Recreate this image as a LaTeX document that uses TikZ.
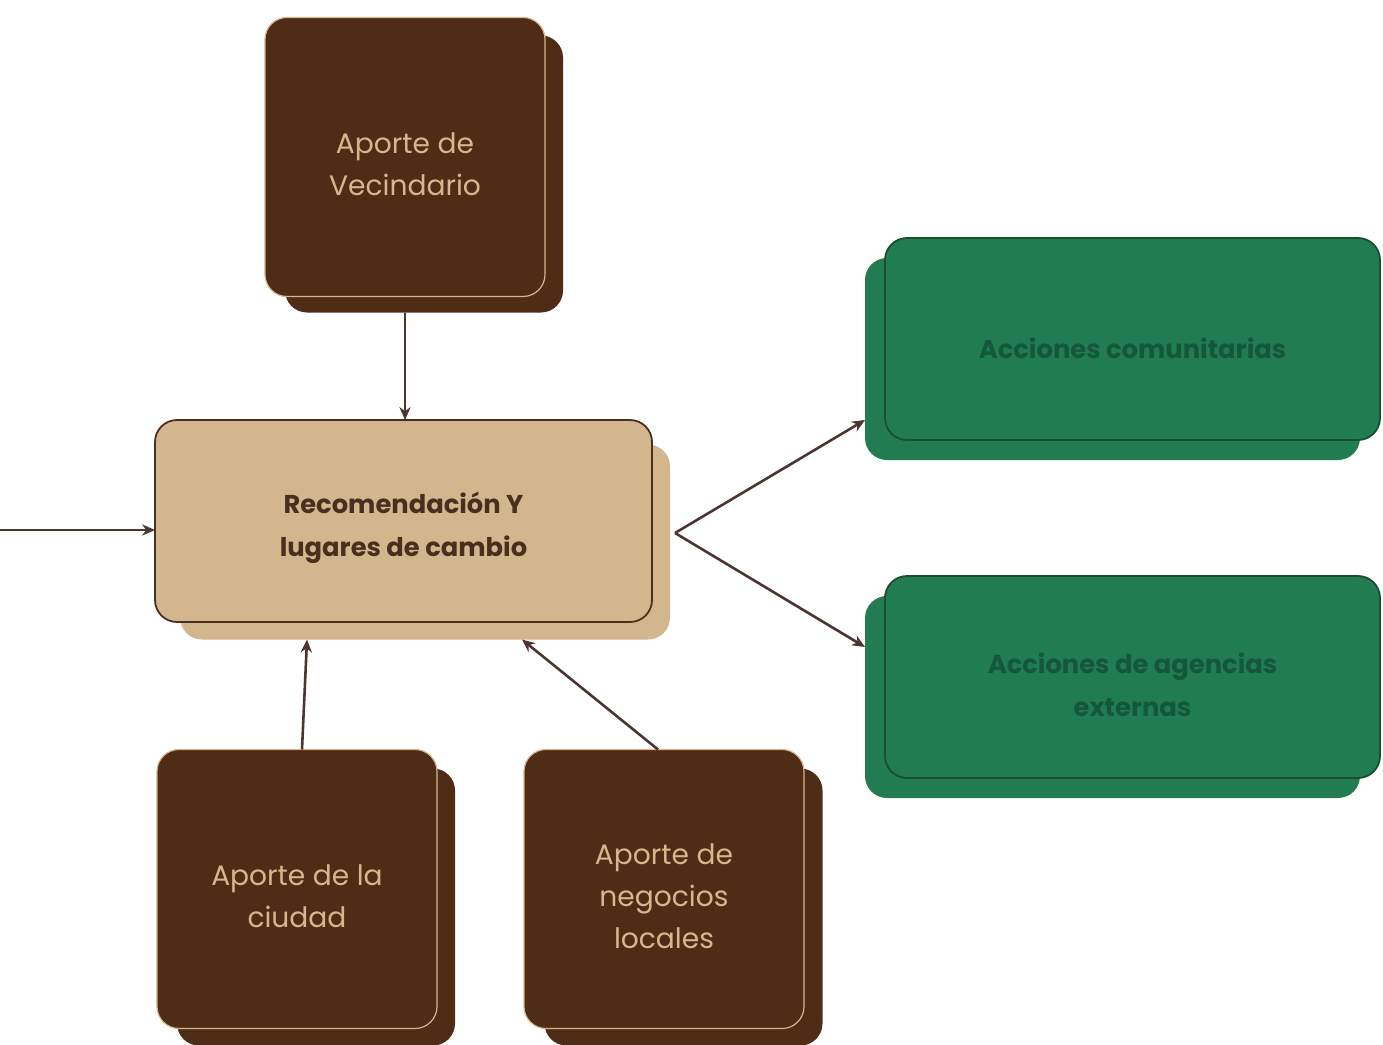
\documentclass[tikz,border=0pt]{standalone}
\usepackage{fontspec}
\setmainfont{Poppins}
\usetikzlibrary{calc,arrows.meta}
\definecolor{brownbox}{HTML}{4F2C16}
\definecolor{tantext}{HTML}{D9B58E}
\definecolor{tanbox}{HTML}{D3B68E}
\definecolor{darkbrown}{HTML}{4A2E1E}
\definecolor{greenbox}{HTML}{217C52}
\definecolor{greentext}{HTML}{14573A}
\definecolor{greenline}{HTML}{1A4D32}
\definecolor{arrowc}{HTML}{4A3530}
\begin{document}
\begin{tikzpicture}[x=0.03cm,y=-0.03cm,
  box/.style={rounded corners=0.66cm, inner sep=0pt, outer sep=0pt},
  brownback/.style={box, fill=brownbox},
  brownfront/.style={box, fill=brownbox, draw=tantext, line width=1pt},
  tanback/.style={box, fill=tanbox},
  tanfront/.style={box, fill=tanbox, draw=darkbrown, line width=1.5pt},
  greenback/.style={box, fill=greenbox},
  greenfront/.style={box, fill=greenbox, draw=greenline, line width=1.5pt},
  sqback/.style={minimum width=8.34cm, minimum height=8.31cm},
  sqfront/.style={minimum width=8.4cm, minimum height=8.37cm},
  wideback/.style={minimum width=14.85cm, minimum height=6.06cm},
  widefront/.style={minimum width=14.85cm, minimum height=6.06cm},
  btext/.style={align=center, text=tantext, font=\fontsize{24}{36}\selectfont},
  ctext/.style={align=center, text=darkbrown, font=\fontsize{22}{37}\selectfont\bfseries},
  gtext/.style={align=center, text=greentext, font=\fontsize{22}{37}\selectfont\bfseries},
  arr/.style={draw=arrowc, line width=2.2pt, -{Stealth[length=11pt,width=9.5pt]}}
]
\useasboundingbox[fill=white] (0,0) rectangle (1383,1045);

% top box
\node[brownback, sqback] (topb) at (424,174) {};
\node[brownfront, sqfront] (topf) at (405,157) {};
\node[btext] (topt) at ($(topf.center)+(0,7)$) {Aporte de\\Vecindario};

% center box
\node[tanback, minimum width=14.7cm, minimum height=5.85cm] (cb) at (425,542) {};
\node[tanfront, minimum width=14.91cm, minimum height=6.06cm] (cf) at (403.5,521) {};
\node[ctext] (ct) at ($(cf.center)+(0,7)$) {Recomendación Y\\lugares de cambio};

% green boxes
\node[greenback, wideback] (g1b) at (1112.5,359) {};
\node[greenfront, widefront] (g1f) at (1132.5,339) {};
\node[gtext] (g1t) at ($(g1f.center)+(0,9)$) {Acciones comunitarias};

\node[greenback, wideback] (g2b) at (1112.5,697) {};
\node[greenfront, widefront] (g2f) at (1132.5,677) {};
\node[gtext] (g2t) at ($(g2f.center)+(0,8)$) {Acciones de agencias\\externas};

% bottom boxes
\node[brownback, sqback] (cib) at (316,907) {};
\node[brownfront, sqfront] (cif) at (297,889) {};
\node[btext] (cit) at ($(cif.center)+(0,7)$) {Aporte de la\\ciudad};

\node[brownback, sqback] (neb) at (683.5,907) {};
\node[brownfront, sqfront] (nef) at (664,889) {};
\node[btext] (net) at ($(nef.center)+(0,7)$) {Aporte de\\negocios\\locales};

% connectors
\coordinate (lin) at (0,530);
\draw[arr] (topf.south |- topb.south) -- (topf.south |- cf.north);
\draw[arr] (lin) -- (lin -| cf.west);
\draw[arr] ($(cif.north)+(5,0)$) -- ($(cb.south west)+(127,0)$);
\draw[arr] ($(nef.north)+(-6,0)$) -- ($(cb.south west)+(342,0)$);
\draw[arr] ($(cb.east)+(5,-9)$) -- ($(g1b.south west)+(0,-40)$);
\draw[arr] ($(cb.east)+(5,-9)$) -- ($(g2b.north west)+(0,51)$);
\end{tikzpicture}
\end{document}
